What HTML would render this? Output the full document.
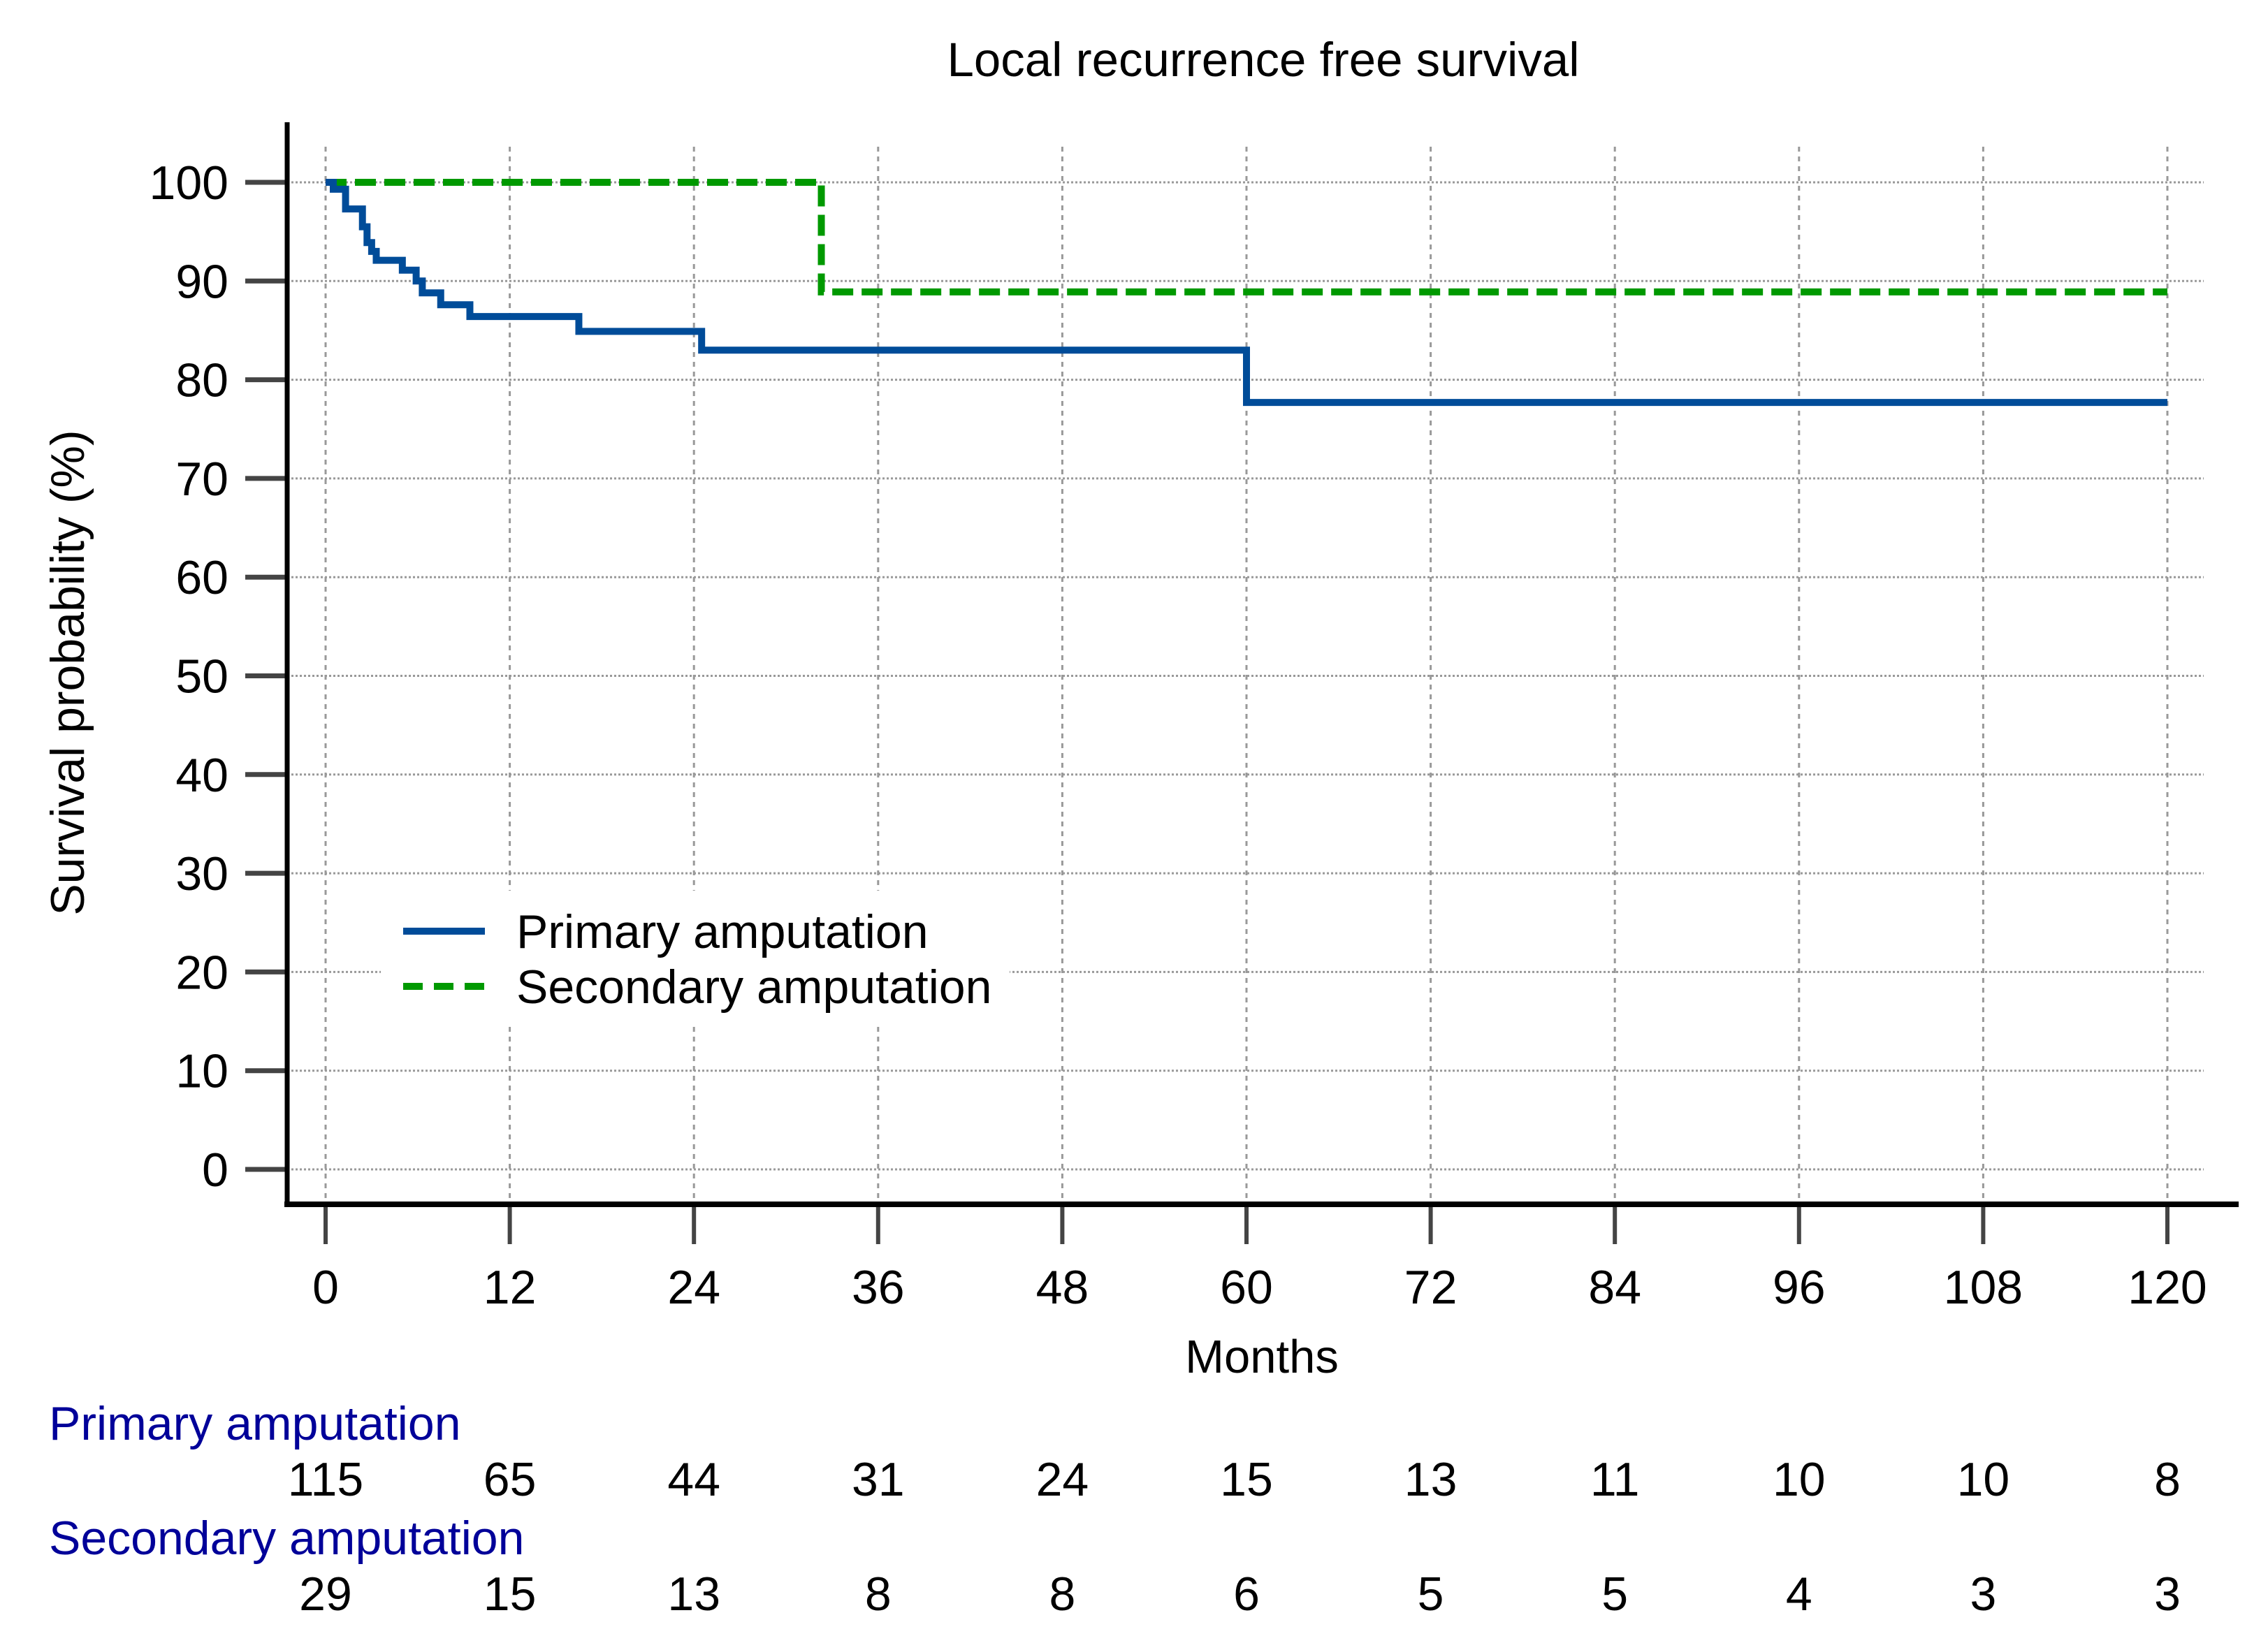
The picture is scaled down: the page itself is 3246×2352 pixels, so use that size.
<!DOCTYPE html>
<html><head><meta charset="utf-8"><style>
html,body{margin:0;padding:0;background:#fff;}
svg{display:block;font-family:"Liberation Sans",Arial,sans-serif;}
</style></head><body>
<svg id="chart" width="3246" height="2352" viewBox="0 0 3246 2352">
<text x="1808" y="109" font-size="69" text-anchor="middle">Local recurrence free survival</text>
<g id="grid"></g>
<g id="axes"></g>
<g id="series"></g>
<g id="legend">
  <rect x="545" y="1275" width="900" height="195" fill="#fff"/>
  <line x1="577" y1="1333" x2="694" y2="1333" stroke="#004c99" stroke-width="10"/>
  <text x="739" y="1357" font-size="68">Primary amputation</text>
  <line x1="577" y1="1412" x2="694" y2="1412" stroke="#009900" stroke-width="10" stroke-dasharray="28,16"/>
  <text x="739" y="1436" font-size="68">Secondary amputation</text>
</g>
<text transform="translate(120,963) rotate(-90)" font-size="68" text-anchor="middle">Survival probability (%)</text>
<text x="1806" y="1965" font-size="67" text-anchor="middle">Months</text>
<text x="70" y="2061" font-size="68" fill="#000099">Primary amputation</text>
<text x="70" y="2225" font-size="68" fill="#000099">Secondary amputation</text>
<g id="risk"></g>
</svg>
<script>
const xTicks = [0,12,24,36,48,60,72,84,96,108,120];
const yTicks = [0,10,20,30,40,50,60,70,80,90,100];
const primaryTimes = [0,0.5,1.3,2.4,2.7,3.0,3.3,5.0,5.9,6.3,7.5,9.4,16.5,24.5,60,120];
const primaryValues = [100,99.3,97.3,95.5,93.9,93.0,92.1,91.1,90.0,88.8,87.6,86.4,84.9,83.0,77.7,77.7];
const secondaryTimes = [0,32.3,120];
const secondaryValues = [100,88.9,88.9];
const riskPrimary = [115,65,44,31,24,15,13,11,10,10,8];
const riskSecondary = [29,15,13,8,8,6,5,5,4,3,3];

const NS="http://www.w3.org/2000/svg";
const X = m => 466 + m*(3102-466)/120;
const Y = v => 1674 - v*(1674-261)/100;
function mk(tag, attrs, parent){const e=document.createElementNS(NS,tag);for(const k in attrs)e.setAttribute(k,attrs[k]);parent.appendChild(e);return e;}
const grid=document.getElementById('grid'), axes=document.getElementById('axes'), series=document.getElementById('series'), risk=document.getElementById('risk');

yTicks.forEach(v=>{
  const g=mk('line',{x1:411,x2:3154,y1:Y(v),y2:Y(v),stroke:'#999','stroke-width':3,'stroke-dasharray':'3,3'},grid);
  
  
  const t=mk('line',{x1:351,x2:411,y1:Y(v),y2:Y(v),stroke:'#444','stroke-width':7},axes);
  
  
  const l=mk('text',{x:327,y:Y(v)+24,'font-size':68,'text-anchor':'end'},axes);
  l.textContent=v;
  
  
});
xTicks.forEach((m,i)=>{
  const g=mk('line',{x1:X(m),x2:X(m),y1:210,y2:1724,stroke:'#999','stroke-width':3,'stroke-dasharray':'7,7'},grid);
  
  
  const t=mk('line',{x1:X(m),x2:X(m),y1:1724,y2:1781,stroke:'#444','stroke-width':6},axes);
  
  
  const l=mk('text',{x:X(m),y:1866,'font-size':68,'text-anchor':'middle'},axes);
  l.textContent=m;
  
  
  const r1=mk('text',{x:X(m),y:2141,'font-size':68,'text-anchor':'middle'},risk);
  r1.textContent=riskPrimary[i];
  
  
  const r2=mk('text',{x:X(m),y:2305,'font-size':68,'text-anchor':'middle'},risk);
  r2.textContent=riskSecondary[i];
  
  
});
const ya=mk('line',{x1:411,x2:411,y1:175,y2:1728,stroke:'#000','stroke-width':7},axes);


const xa=mk('line',{x1:407,x2:3204,y1:1724,y2:1724,stroke:'#000','stroke-width':8},axes);



function stepPath(ts,vs){let d='M'+X(ts[0])+','+Y(vs[0]);for(let i=1;i<ts.length;i++){d+=' H'+X(ts[i])+' V'+Y(vs[i]);}return d;}
const sec=mk('path',{d:stepPath(secondaryTimes,secondaryValues),fill:'none',stroke:'#009900','stroke-width':10,'stroke-dasharray':'30,12'},series);


const pri=mk('path',{d:stepPath(primaryTimes,primaryValues),fill:'none',stroke:'#004c99','stroke-width':10},series);


</script>
</body></html>
